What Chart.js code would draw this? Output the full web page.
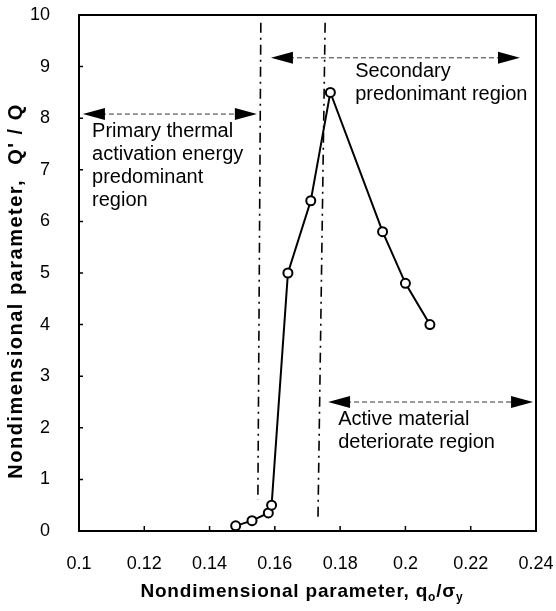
<!DOCTYPE html>
<html>
<head>
<meta charset="utf-8">
<script src="https://cdn.jsdelivr.net/npm/chart.js@4"></script>
<style>
html,body{margin:0;padding:0;background:#fff}
#wrap{width:556px;height:611px}
</style>
</head>
<body>
<div id="wrap"><canvas id="myChart" width="556" height="611"></canvas></div>
<script>
// values
const qRatioX = [0.148, 0.153, 0.158, 0.159, 0.164, 0.171, 0.177, 0.193, 0.200, 0.2075]
const qRatioY = [0.1, 0.2, 0.35, 0.5, 5.0, 6.4, 8.5, 5.8, 4.8, 4.0]
const xTicks = [0.1, 0.12, 0.14, 0.16, 0.18, 0.2, 0.22, 0.24]
const xTickLabels = ['0.1', '0.12', '0.14', '0.16', '0.18', '0.2', '0.22', '0.24']
const yTicks = [0, 1, 2, 3, 4, 5, 6, 7, 8, 9, 10]

// region boundaries (dash-dot lines) and region arrows
const boundA = [{x: 0.1557, y: 9.85}, {x: 0.1548, y: 0.6}]
const boundB = [{x: 0.1754, y: 9.85}, {x: 0.1732, y: 0.2}]
const arrows = [
  {y: 8.08, from: 0.1012, to: 0.1545},
  {y: 9.17, from: 0.1588, to: 0.2351},
  {y: 2.5, from: 0.1763, to: 0.2391}
]
const notes = [
  {x: 0.104, y: 7.75, lines: ['Primary thermal', 'activation energy', 'predominant', 'region']},
  {x: 0.1846, y: 8.9, lines: ['Secondary', 'predonimant region']},
  {x: 0.1794, y: 2.17, lines: ['Active material', 'deteriorate region']}
]

const FONT = '"Liberation Sans", Arial, sans-serif'

const drawArrow = (ctx, x1, x2, yy) => {
  ctx.save()
  ctx.strokeStyle = '#333'
  ctx.lineWidth = 1
  ctx.setLineDash([5, 3])
  ctx.beginPath()
  ctx.moveTo(x1 + 18, yy)
  ctx.lineTo(x2 - 18, yy)
  ctx.stroke()
  ctx.setLineDash([])
  ctx.fillStyle = '#000'
  ctx.beginPath()
  ctx.moveTo(x1, yy); ctx.lineTo(x1 + 22, yy - 6); ctx.lineTo(x1 + 22, yy + 6); ctx.closePath()
  ctx.fill()
  ctx.beginPath()
  ctx.moveTo(x2, yy); ctx.lineTo(x2 - 22, yy - 6); ctx.lineTo(x2 - 22, yy + 6); ctx.closePath()
  ctx.fill()
  ctx.restore()
}

const extras = {
  id: 'extras',
  beforeDatasetsDraw(chart) {
    const {ctx, scales: {x, y}} = chart
    arrows.forEach(a => drawArrow(ctx, x.getPixelForValue(a.from), x.getPixelForValue(a.to), y.getPixelForValue(a.y)))
    ctx.save()
    ctx.fillStyle = '#000'
    ctx.font = '20px ' + FONT
    ctx.textBaseline = 'middle'
    notes.forEach(n => {
      const px = x.getPixelForValue(n.x), py = y.getPixelForValue(n.y)
      n.lines.forEach((t, i) => ctx.fillText(t, px, py + i * 23))
    })
    ctx.restore()
  },
  afterDraw(chart) {
    const {ctx, chartArea: a, scales: {x, y}} = chart
    ctx.save()
    ctx.strokeStyle = '#000'
    ctx.lineWidth = 2
    ctx.strokeRect(a.left, a.top, a.right - a.left, a.bottom - a.top)
    ctx.lineWidth = 1.5
    ctx.beginPath()
    xTicks.forEach(v => {
      const px = x.getPixelForValue(v)
      ctx.moveTo(px, a.bottom); ctx.lineTo(px, a.bottom - 5)
    })
    yTicks.forEach(v => {
      const py = y.getPixelForValue(v)
      ctx.moveTo(a.left, py); ctx.lineTo(a.left + 4, py)
    })
    ctx.stroke()

    // axis titles
    ctx.fillStyle = '#000'
    ctx.textBaseline = 'alphabetic'
    ctx.letterSpacing = '0.8px'
    const big = 'bold 19px ' + FONT, small = 'bold 12px ' + FONT
    const parts = [['Nondimensional parameter, q', big, 0], ['o', small, 4], ['/\u03c3', big, 0], ['y', small, 4]]
    let w = 0
    parts.forEach(p => { ctx.font = p[1]; w += ctx.measureText(p[0]).width })
    let cx = 302 - w / 2
    parts.forEach(p => {
      ctx.font = p[1]
      ctx.fillText(p[0], cx, 597 + p[2])
      cx += ctx.measureText(p[0]).width
    })
    ctx.letterSpacing = '1.5px'
    ctx.translate(22, 291)
    ctx.rotate(-Math.PI / 2)
    ctx.font = 'bold 20px ' + FONT
    ctx.textAlign = 'center'
    ctx.fillText("Nondimensional parameter,  Q' / Q", 0, 0)
    ctx.restore()
  }
}

const ctx = document.getElementById('myChart')
new Chart(ctx, {
  type: 'scatter',
  data: {
    datasets: [
      {
        data: qRatioX.map((v, i) => ({x: v, y: qRatioY[i]})),
        showLine: true,
        borderColor: '#000',
        borderWidth: 2,
        pointRadius: 4.5,
        pointBorderWidth: 2,
        pointBackgroundColor: '#fff',
        pointBorderColor: '#000'
      },
      {
        data: boundA, showLine: true, borderColor: '#000', borderWidth: 1.6,
        borderDash: [10, 5, 2, 5], pointRadius: 0
      },
      {
        data: boundB, showLine: true, borderColor: '#000', borderWidth: 1.6,
        borderDash: [10, 5, 2, 5], pointRadius: 0
      }
    ]
  },
  options: {
    responsive: false,
    animation: false,
    layout: {padding: {top: 15, right: 20, left: 0, bottom: 0}},
    plugins: {legend: {display: false}, tooltip: {enabled: false}},
    scales: {
      x: {
        type: 'linear', min: 0.1, max: 0.24,
        afterBuildTicks: s => { s.ticks = xTicks.map(v => ({value: v})) },
        afterFit: s => { s.height = 80; s.paddingLeft = 0; s.paddingRight = 0 },
        grid: {display: false},
        border: {display: false},
        ticks: {
          color: '#000', padding: 14, maxRotation: 0,
          font: {size: 18, family: FONT},
          callback: (v, i) => xTickLabels[i]
        }
      },
      y: {
        type: 'linear', min: 0, max: 10,
        afterBuildTicks: s => { s.ticks = yTicks.map(v => ({value: v})) },
        afterFit: s => { s.width = 79; s.paddingTop = 0; s.paddingBottom = 0 },
        grid: {display: false},
        border: {display: false},
        ticks: {
          color: '#000', padding: 21,
          font: {size: 18, family: FONT},
          callback: v => String(v)
        }
      }
    }
  },
  plugins: [extras]
})
</script>
</body>
</html>
